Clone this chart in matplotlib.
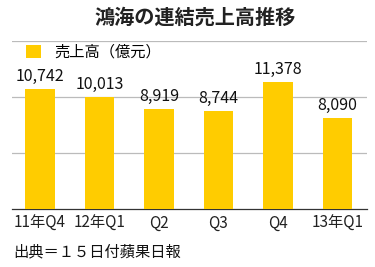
import matplotlib
matplotlib.use("Agg")
import matplotlib.pyplot as plt
from matplotlib.patches import Patch

plt.rcParams['font.family'] = ['Noto Sans CJK JP', 'DejaVu Sans']

categories = ["11年Q4", "12年Q1", "Q2", "Q3", "Q4", "13年Q1"]
values = [10742, 10013, 8919, 8744, 11378, 8090]
value_labels = ["10,742", "10,013", "8,919", "8,744", "11,378", "8,090"]
title = "鴻海の連結売上高推移"
legend_label = "売上高（億元）"
source = "出典＝１５日付蘋果日報"
yticks = [5000, 10000, 15000]
bar_color = "#FFCC00"

fig = plt.figure(figsize=(3.75, 2.67), dpi=100)
ax = fig.add_axes([0.032, 0.217, 0.947, 0.629])

x = list(range(len(categories)))
ax.bar(x, values, width=0.5, color=bar_color, zorder=3)
ax.set_xlim(-0.47, 5.5)
ax.set_ylim(0, 15000)
ax.set_yticks(yticks)
ax.yaxis.grid(True, color="#BBBBBB", linewidth=0.9, zorder=0)
ax.tick_params(axis='y', left=False, labelleft=False)
ax.set_xticks(x)
ax.set_xticklabels(categories, fontsize=11)
ax.tick_params(axis='x', length=0, pad=4, colors="#222222")
for s in ["top", "left", "right"]:
    ax.spines[s].set_visible(False)
ax.spines["bottom"].set_color("#333333")
ax.spines["bottom"].set_linewidth(0.9)

for xi, v, lab in zip(x, values, value_labels):
    ax.annotate(lab, (xi, v), xytext=(0, 3), textcoords="offset points",
                ha="center", va="bottom", fontsize=11.5, color="#111111")

fig.text(0.52, 0.935, title, ha="center", va="center", fontsize=14.5,
         fontweight="bold", color="#222222")

leg = fig.legend(handles=[Patch(facecolor=bar_color, edgecolor="none")],
                 labels=[legend_label], loc="center left",
                 bbox_to_anchor=(0.069, 0.805), frameon=False,
                 handlelength=1.0, handleheight=0.95, handletextpad=0.85,
                 fontsize=11, borderaxespad=0, borderpad=0)

fig.text(0.035, 0.056, source, ha="left", va="center", fontsize=11, color="#111111")

fig.savefig("out.png", dpi=100)
